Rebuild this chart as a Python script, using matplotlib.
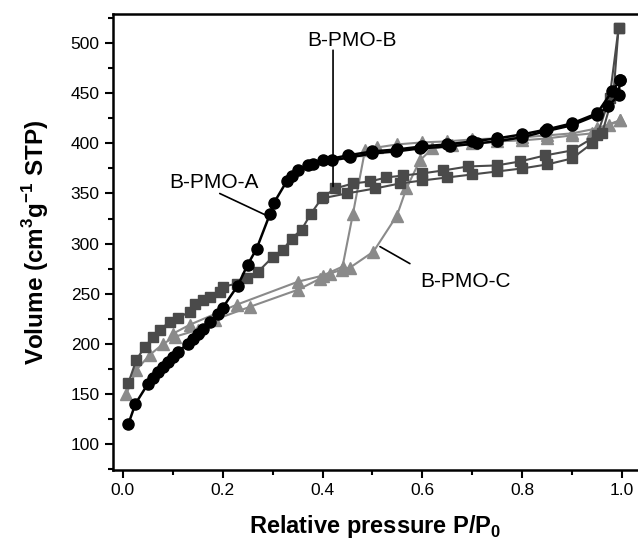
import numpy as np
import matplotlib
matplotlib.use("Agg")
import matplotlib.pyplot as plt

plt.rcParams['font.family'] = ['Liberation Sans', 'DejaVu Sans']
plt.rcParams['mathtext.fontset'] = 'custom'
plt.rcParams['mathtext.rm'] = 'Liberation Sans'
plt.rcParams['mathtext.bf'] = 'Liberation Sans:bold'

# B-PMO-A (black circles)
a_ads_x = [0.011, 0.025, 0.05, 0.06, 0.07, 0.08, 0.09, 0.10, 0.11, 0.13, 0.14, 0.15, 0.16,
           0.175, 0.19, 0.20, 0.23, 0.25, 0.268, 0.295, 0.303, 0.328, 0.338, 0.351, 0.38,
           0.418, 0.455, 0.50, 0.548, 0.595, 0.655, 0.709, 0.749, 0.799, 0.846, 0.899,
           0.949, 0.972, 0.993, 0.996]
a_ads_y = [120, 140, 160, 166, 172, 177, 182, 187, 192, 200, 205, 210, 215,
           222, 230, 236, 258, 279, 295, 330, 341, 362, 367, 373, 379,
           383, 386, 390, 392, 395, 397, 400, 402, 406, 412, 418,
           428, 437, 448, 463]
a_des_x = [0.996, 0.98, 0.95, 0.90, 0.85, 0.80, 0.75, 0.70, 0.65, 0.60, 0.55, 0.50, 0.45, 0.40, 0.37]
a_des_y = [463, 452, 430, 420, 414, 409, 405, 402, 399, 397, 394, 392, 388, 383, 378]

# B-PMO-B (dark grey squares)
b_ads_x = [0.011, 0.027, 0.044, 0.061, 0.074, 0.094, 0.111, 0.134, 0.144, 0.161, 0.174, 0.194,
           0.201, 0.228, 0.248, 0.271, 0.301, 0.321, 0.338, 0.358, 0.377, 0.398, 0.448, 0.505,
           0.555, 0.60, 0.65, 0.70, 0.75, 0.80, 0.85, 0.90, 0.94, 0.96, 0.983, 0.993]
b_ads_y = [161, 184, 197, 207, 214, 222, 226, 232, 240, 244, 247, 252,
           257, 260, 266, 272, 287, 294, 305, 314, 330, 345, 350, 355,
           360, 363, 366, 369, 372, 375, 379, 385, 400, 410, 450, 515]
b_des_x = [0.993, 0.975, 0.95, 0.90, 0.846, 0.796, 0.749, 0.692, 0.642, 0.599, 0.562, 0.528,
           0.495, 0.461, 0.425, 0.40]
b_des_y = [515, 445, 408, 393, 388, 382, 378, 377, 373, 370, 368, 366, 362, 360, 355, 346]

# B-PMO-C (light grey triangles)
c_ads_x = [0.007, 0.027, 0.054, 0.081, 0.104, 0.151, 0.184, 0.255, 0.351, 0.395, 0.415, 0.438,
           0.455, 0.502, 0.549, 0.568, 0.595, 0.62, 0.66, 0.70, 0.75, 0.80, 0.85, 0.90, 0.94,
           0.973, 0.996]
c_ads_y = [150, 174, 189, 200, 207, 214, 224, 237, 254, 265, 270, 274,
           276, 292, 328, 355, 383, 395, 398, 400, 402, 403, 405, 408, 410,
           418, 423]
c_des_x = [0.996, 0.95, 0.90, 0.85, 0.80, 0.75, 0.70, 0.65, 0.60, 0.55, 0.51, 0.485, 0.461,
           0.44, 0.40, 0.351, 0.228, 0.134, 0.10]
c_des_y = [423, 415, 410, 408, 406, 405, 404, 402, 401, 399, 396, 393, 330,
           277, 268, 262, 239, 219, 210]

# labels: text, text position, leader line (start -> end)
labels = ['B-PMO-A', 'B-PMO-B', 'B-PMO-C']
label_pos = [(0.182, 361), (0.458, 503), (0.687, 262)]
leader_from = [(0.194, 350), (0.421, 493), (0.575, 280)]
leader_to = [(0.288, 328), (0.421, 357), (0.515, 297)]

fig = plt.figure(figsize=(6.38, 5.44), dpi=100)
ax = fig.add_axes([0.177, 0.136, 0.823, 0.838])

c_col = '#8a8a8a'
b_col = '#4a4a4a'
for xs, ys in [(c_ads_x, c_ads_y), (c_des_x, c_des_y)]:
    ax.plot(xs, ys, color=c_col, lw=1.5, marker='^', ms=8, mec=c_col, mfc=c_col)
for xs, ys in [(b_ads_x, b_ads_y), (b_des_x, b_des_y)]:
    ax.plot(xs, ys, color=b_col, lw=1.5, marker='s', ms=7, mec=b_col, mfc=b_col)
for xs, ys in [(a_ads_x, a_ads_y), (a_des_x, a_des_y)]:
    ax.plot(xs, ys, color='black', lw=1.8, marker='o', ms=8, mec='black', mfc='black')

ax.set_xlim(-0.02, 1.032)
ax.set_ylim(74, 529)
ax.set_xticks(np.arange(0, 1.01, 0.2))
ax.set_xticks(np.arange(0.1, 1.01, 0.2), minor=True)
ax.set_yticks(np.arange(100, 501, 50))
ax.set_yticks(np.arange(75, 530, 50), minor=True)
ax.xaxis.set_major_formatter(matplotlib.ticker.FormatStrFormatter('%.1f'))

for s in ['left', 'bottom', 'top']:
    ax.spines[s].set_linewidth(1.8)
ax.spines['right'].set_visible(False)
ax.tick_params(which='major', direction='out', length=6, width=1.5, labelsize=12.5,
               top=False, right=False)
ax.tick_params(which='minor', direction='out', length=3.5, width=1.5, top=False, right=False)

ax.set_xlabel(r'Relative pressure P/P$_\mathbf{0}$', fontsize=17, fontweight='bold', labelpad=11)
ax.set_ylabel(r'Volume (cm$^\mathbf{3}$g$^\mathbf{-1}$ STP)', fontsize=17.5, fontweight='bold',
              labelpad=14)

for txt, pos, p0, p1 in zip(labels, label_pos, leader_from, leader_to):
    ax.text(pos[0], pos[1], txt, fontsize=15, ha='center', va='center')
    ax.annotate('', xy=p1, xytext=p0,
                arrowprops=dict(arrowstyle='-', color='black', lw=1.2, shrinkA=0, shrinkB=0))

fig.savefig('out.png', dpi=100)
